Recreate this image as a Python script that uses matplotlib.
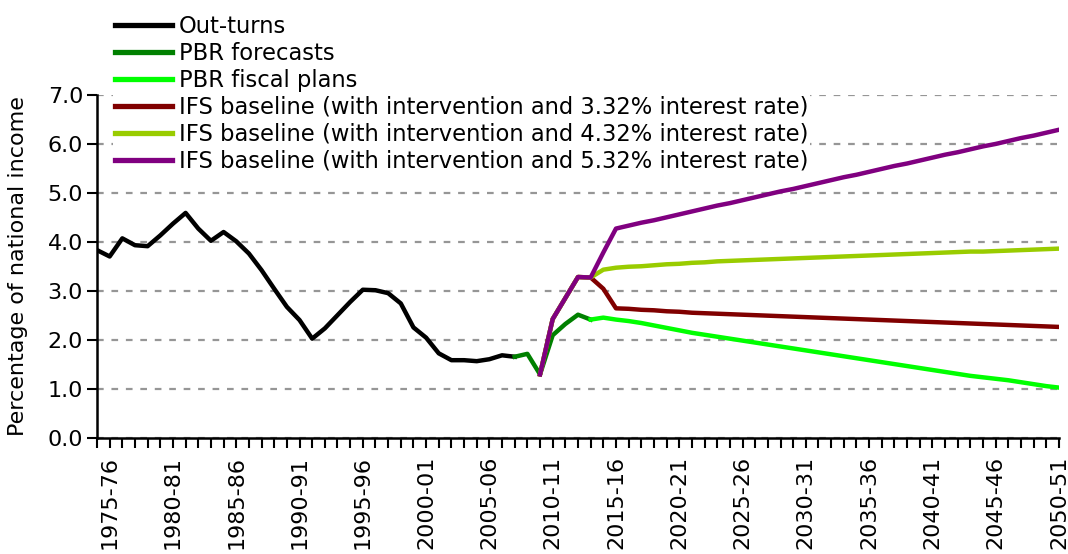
import numpy as np
from matplotlib import pyplot as plt

plt.rcParams['font.family'] = ['DejaVu Sans']

# financial years, labelled by first calendar year (1974 = 1974-75)
outturn_years = list(range(1974, 2008))
outturns = [3.83, 3.70, 4.07, 3.93, 3.91, 4.13, 4.37, 4.59, 4.27, 4.02,
            4.20, 4.01, 3.76, 3.42, 3.04, 2.67, 2.40, 2.02, 2.23, 2.50,
            2.77, 3.02, 3.01, 2.95, 2.74, 2.25, 2.04, 1.72, 1.58, 1.58,
            1.56, 1.60, 1.68, 1.65]

pbr_fc_years = list(range(2007, 2014))
pbr_forecasts = [1.65, 1.71, 1.29, 2.09, 2.32, 2.51, 2.41]

plan_years = list(range(2013, 2051))
pbr_plans = [2.41, 2.45, 2.41, 2.38, 2.34, 2.29, 2.24, 2.19, 2.14, 2.10,
             2.06, 2.02, 1.98, 1.94, 1.90, 1.86, 1.82, 1.78, 1.74, 1.70,
             1.66, 1.62, 1.58, 1.54, 1.50, 1.46, 1.42, 1.38, 1.34, 1.30,
             1.26, 1.23, 1.20, 1.17, 1.13, 1.09, 1.05, 1.02]

ifs_years = list(range(2009, 2051))
ifs_common = [1.29, 2.42, 2.85, 3.28, 3.27]   # 2009-10 to 2013-14
ifs_332 = ifs_common + [3.04, 2.64, 2.63, 2.61, 2.60, 2.58, 2.57, 2.55, 2.54,
                        2.53, 2.52, 2.51, 2.50, 2.49, 2.48, 2.47, 2.46, 2.45,
                        2.44, 2.43, 2.42, 2.41, 2.40, 2.39, 2.38, 2.37, 2.36,
                        2.35, 2.34, 2.33, 2.32, 2.31, 2.30, 2.29, 2.28, 2.27,
                        2.26]
ifs_432 = ifs_common + [3.43, 3.47, 3.49, 3.50, 3.52, 3.54, 3.55, 3.57, 3.58,
                        3.60, 3.61, 3.62, 3.63, 3.64, 3.65, 3.66, 3.67, 3.68,
                        3.69, 3.70, 3.71, 3.72, 3.73, 3.74, 3.75, 3.76, 3.77,
                        3.78, 3.79, 3.80, 3.80, 3.81, 3.82, 3.83, 3.84, 3.85,
                        3.86]
ifs_532 = ifs_common + [3.78, 4.27, 4.33, 4.39, 4.44, 4.50, 4.56, 4.62, 4.68,
                        4.74, 4.79, 4.85, 4.91, 4.97, 5.03, 5.08, 5.14, 5.20,
                        5.26, 5.32, 5.37, 5.43, 5.49, 5.55, 5.60, 5.66, 5.72,
                        5.78, 5.83, 5.89, 5.95, 6.00, 6.06, 6.12, 6.17, 6.23,
                        6.29]

tick_years = list(range(1975, 2051, 5))
tick_labels = ['1975-76', '1980-81', '1985-86', '1990-91', '1995-96', '2000-01',
               '2005-06', '2010-11', '2015-16', '2020-21', '2025-26', '2030-31',
               '2035-36', '2040-41', '2045-46', '2050-51']

fig = plt.figure(figsize=(10.68, 5.54), dpi=100)
ax = fig.add_axes([97 / 1068, 116.5 / 554, 962 / 1068, 342.5 / 554])

lw = 3.2
ax.plot(outturn_years, outturns, color='black', lw=lw, label='Out-turns')
ax.plot(pbr_fc_years, pbr_forecasts, color='#008000', lw=lw, label='PBR forecasts')
ax.plot(plan_years, pbr_plans, color='#00ff00', lw=lw, label='PBR fiscal plans')
ax.plot(ifs_years, ifs_332, color='#800000', lw=lw,
        label='IFS baseline (with intervention and 3.32% interest rate)')
ax.plot(ifs_years, ifs_432, color='#99cc00', lw=lw,
        label='IFS baseline (with intervention and 4.32% interest rate)')
ax.plot(ifs_years, ifs_532, color='#800080', lw=lw,
        label='IFS baseline (with intervention and 5.32% interest rate)')

ax.set_xlim(1974, 2050)
ax.set_ylim(0, 7)
ax.set_yticks(np.arange(0, 7.5, 1))
ax.set_yticklabels(['%.1f' % v for v in np.arange(0, 7.5, 1)])
ax.set_xticks(tick_years)
ax.set_xticklabels(tick_labels, rotation=90)
ax.set_xticks(range(1974, 2051), minor=True)
ax.tick_params(axis='x', which='both', length=7, width=1.5, direction='out',
               labelsize=16, pad=6)
ax.tick_params(axis='y', length=7, width=1.5, direction='out', labelsize=16, pad=3)
ax.yaxis.grid(True, color='#969696', lw=1.6, linestyle=(0, (3, 3.5)))
ax.set_axisbelow(True)
for s in ['top', 'right']:
    ax.spines[s].set_visible(False)
for s in ['left', 'bottom']:
    ax.spines[s].set_linewidth(1.8)
ax.set_ylabel('Percentage of national income', fontsize=16)
ax.yaxis.set_label_coords(-0.0715, 0.5)

handles, labels = ax.get_legend_handles_labels()
leg = fig.legend(handles, labels, loc='upper left', bbox_to_anchor=(113 / 1068, 1 - 13 / 554),
                 fontsize=16.3, frameon=True, fancybox=False, edgecolor='none',
                 facecolor='white', framealpha=1, borderpad=0.1, labelspacing=0.17,
                 handlelength=2.5, handletextpad=0.3, borderaxespad=0)
for h in leg.get_lines():
    h.set_linewidth(3.8)

fig.savefig('out.png', dpi=100)
